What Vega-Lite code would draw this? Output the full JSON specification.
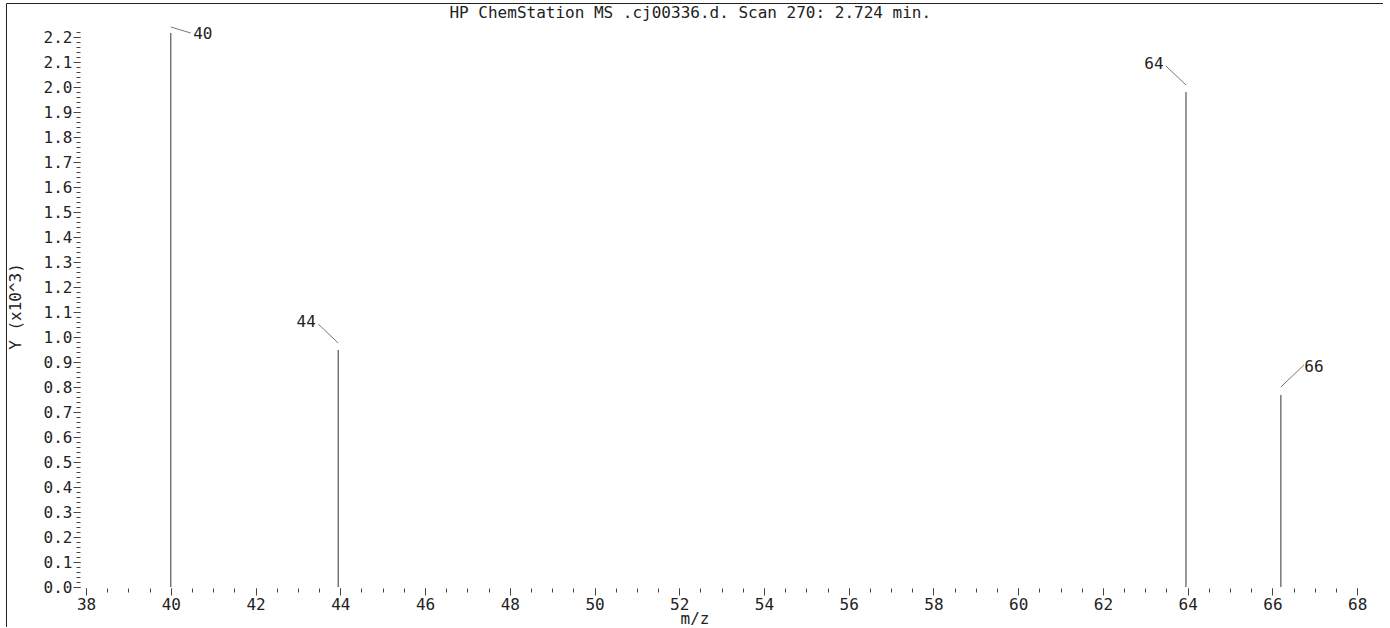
{
  "$schema": "https://vega.github.io/schema/vega-lite/v6.json",
  "width": 1377,
  "height": 624,
  "padding": {"left": 6, "top": 3, "right": 0, "bottom": 0},
  "autosize": "none",
  "background": "white",
  "config": {
    "view": {"stroke": "#222", "strokeWidth": 1},
    "axis": {"domain": false, "grid": false, "labelFont": "DejaVu Sans Mono", "labelFontSize": 16, "labelColor": "#222", "titleFont": "DejaVu Sans Mono", "titleFontSize": 16, "titleFontWeight": "normal", "titleColor": "#222", "tickColor": "#444", "tickWidth": 1}
  },
  "data": {"values": [
    {"mz": 40.0, "intensity": 2.216, "label": "40"},
    {"mz": 43.95, "intensity": 0.948, "label": "44"},
    {"mz": 63.96, "intensity": 1.98, "label": "64"},
    {"mz": 66.2, "intensity": 0.768, "label": "66"}
  ]},
  "resolve": {"axis": {"x": "independent", "y": "independent"}},
  "layer": [
    {
      "mark": {"type": "rule", "color": "#333", "strokeWidth": 1},
      "encoding": {
        "x": {"field": "mz", "type": "quantitative", "scale": {"domain": [36.11, 68.61], "nice": false, "zero": false},
          "axis": {"orient": "bottom", "offset": -39, "values": [38,40,42,44,46,48,50,52,54,56,58,60,62,64,66,68], "format": "d", "tickSize": 7, "labelPadding": 1, "title": "m/z", "titleY": 35, "titleBaseline": "alphabetic"}},
        "y": {"field": "intensity", "type": "quantitative", "scale": {"domain": [-0.16, 2.336], "nice": false, "zero": false},
          "axis": {"orient": "left", "offset": -74, "values": [0,0.1,0.2,0.3,0.4,0.5,0.6,0.7,0.8,0.9,1,1.1,1.2,1.3,1.4,1.5,1.6,1.7,1.8,1.9,2,2.1,2.2], "format": ".1f", "tickSize": 7, "labelPadding": 1, "title": "Y (x10^3)", "titlePadding": 20, "titleY": 303}},
        "y2": {"datum": 0}
      }
    },
    {
      "mark": {"type": "rule", "opacity": 0},
      "encoding": {
        "x": {"field": "mz", "type": "quantitative", "scale": {"domain": [36.11, 68.61], "nice": false, "zero": false},
          "axis": {"orient": "bottom", "offset": -39, "values": [38,38.5,39,39.5,40,40.5,41,41.5,42,42.5,43,43.5,44,44.5,45,45.5,46,46.5,47,47.5,48,48.5,49,49.5,50,50.5,51,51.5,52,52.5,53,53.5,54,54.5,55,55.5,56,56.5,57,57.5,58,58.5,59,59.5,60,60.5,61,61.5,62,62.5,63,63.5,64,64.5,65,65.5,66,66.5,67,67.5,68], "tickSize": 4, "labels": false, "title": null}},
        "y": {"field": "intensity", "type": "quantitative", "scale": {"domain": [-0.16, 2.336], "nice": false, "zero": false},
          "axis": {"orient": "left", "offset": -74, "values": [0,0.02,0.04,0.06,0.08,0.1,0.12,0.14,0.16,0.18,0.2,0.22,0.24,0.26,0.28,0.3,0.32,0.34,0.36,0.38,0.4,0.42,0.44,0.46,0.48,0.5,0.52,0.54,0.56,0.58,0.6,0.62,0.64,0.66,0.68,0.7,0.72,0.74,0.76,0.78,0.8,0.82,0.84,0.86,0.88,0.9,0.92,0.94,0.96,0.98,1,1.02,1.04,1.06,1.08,1.1,1.12,1.14,1.16,1.18,1.2,1.22,1.24,1.26,1.28,1.3,1.32,1.34,1.36,1.38,1.4,1.42,1.44,1.46,1.48,1.5,1.52,1.54,1.56,1.58,1.6,1.62,1.64,1.66,1.68,1.7,1.72,1.74,1.76,1.78,1.8,1.82,1.84,1.86,1.88,1.9,1.92,1.94,1.96,1.98,2,2.02,2.04,2.06,2.08,2.1,2.12,2.14,2.16,2.18,2.2,2.22], "tickSize": 4, "labels": false, "title": null}}
      }
    },
    {
      "data": {"values": [{"title": "HP ChemStation MS .cj00336.d. Scan 270: 2.724 min."}]},
      "mark": {"type": "text", "font": "DejaVu Sans Mono", "fontSize": 16, "color": "#222", "align": "center", "baseline": "alphabetic"},
      "encoding": {
        "x": {"datum": 52.26, "type": "quantitative", "scale": {"domain": [36.11, 68.61], "nice": false, "zero": false}, "axis": null},
        "y": {"datum": 2.276, "type": "quantitative", "scale": {"domain": [-0.16, 2.336], "nice": false, "zero": false}, "axis": null},
        "text": {"field": "title"}
      }
    },
    {
      "transform": [{"filter": "datum.label == '44' || datum.label == '64'"}],
      "mark": {"type": "rule", "color": "#555", "strokeWidth": 0.8, "yOffset": -7, "x2Offset": -20, "y2Offset": -26},
      "encoding": {
        "x": {"field": "mz", "type": "quantitative", "scale": {"domain": [36.11, 68.61], "nice": false, "zero": false}, "axis": null},
        "y": {"field": "intensity", "type": "quantitative", "scale": {"domain": [-0.16, 2.336], "nice": false, "zero": false}, "axis": null},
        "x2": {"field": "mz"},
        "y2": {"field": "intensity"}
      }
    },
    {
      "transform": [{"filter": "datum.label == '66'"}],
      "mark": {"type": "rule", "color": "#555", "strokeWidth": 0.8, "yOffset": -8, "x2Offset": 23, "y2Offset": -30},
      "encoding": {
        "x": {"field": "mz", "type": "quantitative", "scale": {"domain": [36.11, 68.61], "nice": false, "zero": false}, "axis": null},
        "y": {"field": "intensity", "type": "quantitative", "scale": {"domain": [-0.16, 2.336], "nice": false, "zero": false}, "axis": null},
        "x2": {"field": "mz"},
        "y2": {"field": "intensity"}
      }
    },
    {
      "transform": [{"filter": "datum.label == '40'"}],
      "mark": {"type": "rule", "color": "#555", "strokeWidth": 0.8, "yOffset": -6, "x2Offset": 20, "y2Offset": 0},
      "encoding": {
        "x": {"field": "mz", "type": "quantitative", "scale": {"domain": [36.11, 68.61], "nice": false, "zero": false}, "axis": null},
        "y": {"field": "intensity", "type": "quantitative", "scale": {"domain": [-0.16, 2.336], "nice": false, "zero": false}, "axis": null},
        "x2": {"field": "mz"},
        "y2": {"field": "intensity"}
      }
    },
    {
      "transform": [{"filter": "datum.label == '44' || datum.label == '64'"}],
      "mark": {"type": "text", "font": "DejaVu Sans Mono", "fontSize": 16, "color": "#222", "align": "center", "baseline": "middle", "dx": -32, "dy": -28},
      "encoding": {
        "x": {"field": "mz", "type": "quantitative", "scale": {"domain": [36.11, 68.61], "nice": false, "zero": false}, "axis": null},
        "y": {"field": "intensity", "type": "quantitative", "scale": {"domain": [-0.16, 2.336], "nice": false, "zero": false}, "axis": null},
        "text": {"field": "label"}
      }
    },
    {
      "transform": [{"filter": "datum.label == '66'"}],
      "mark": {"type": "text", "font": "DejaVu Sans Mono", "fontSize": 16, "color": "#222", "align": "center", "baseline": "middle", "dx": 33, "dy": -28},
      "encoding": {
        "x": {"field": "mz", "type": "quantitative", "scale": {"domain": [36.11, 68.61], "nice": false, "zero": false}, "axis": null},
        "y": {"field": "intensity", "type": "quantitative", "scale": {"domain": [-0.16, 2.336], "nice": false, "zero": false}, "axis": null},
        "text": {"field": "label"}
      }
    },
    {
      "transform": [{"filter": "datum.label == '40'"}],
      "mark": {"type": "text", "font": "DejaVu Sans Mono", "fontSize": 16, "color": "#222", "align": "center", "baseline": "middle", "dx": 32, "dy": 1},
      "encoding": {
        "x": {"field": "mz", "type": "quantitative", "scale": {"domain": [36.11, 68.61], "nice": false, "zero": false}, "axis": null},
        "y": {"field": "intensity", "type": "quantitative", "scale": {"domain": [-0.16, 2.336], "nice": false, "zero": false}, "axis": null},
        "text": {"field": "label"}
      }
    }
  ]
}
